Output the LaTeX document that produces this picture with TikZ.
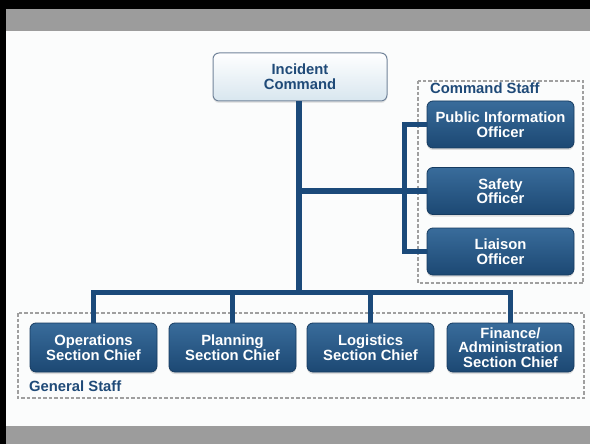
\documentclass[tikz,border=0pt]{standalone}
\usepackage{fontspec}
\setmainfont{Liberation Sans}
\usetikzlibrary{shadows}
\definecolor{navy}{HTML}{1B4A7A}
\definecolor{txtblue}{HTML}{1F4A78}
\definecolor{boxtop}{HTML}{396C9B}
\definecolor{boxbot}{HTML}{1C4873}
\definecolor{boxedge}{HTML}{163B60}
\definecolor{bandgray}{HTML}{9C9C9C}
\definecolor{pagebg}{HTML}{FBFCFC}
\definecolor{icedge}{HTML}{72849A}
\definecolor{icbot}{HTML}{D8E6EF}
\tikzset{
  unitbox/.style={rectangle, rounded corners=6pt, draw=boxedge, line width=0.8pt,
    top color=boxtop, bottom color=boxbot, text=white, align=center,
    font=\bfseries\fontsize{14.8}{14.5}\selectfont, inner sep=0pt,
    drop shadow={opacity=0.25, shadow xshift=0pt, shadow yshift=-2pt}},
  icbox/.style={rectangle, rounded corners=6pt, draw=icedge, line width=1pt,
    top color=white, bottom color=icbot, text=txtblue, align=center,
    font=\bfseries\fontsize{14.8}{15}\selectfont, inner sep=0pt,
    minimum width=174pt, minimum height=48pt,
    drop shadow={opacity=0.18, shadow xshift=0pt, shadow yshift=-2pt}},
  frame/.style={draw=gray!75, line width=1.3pt, dash pattern=on 3.5pt off 2pt},
  grouplabel/.style={anchor=west, text=txtblue, font=\bfseries\fontsize{14.8}{15}\selectfont, inner sep=0pt},
  conn/.style={draw=navy, line width=5.5pt, line join=miter},
}
\begin{document}
\begin{tikzpicture}[x=1pt, y=-1pt]
\useasboundingbox (0,0) rectangle (590,444);
% background and bands
\fill[pagebg] (0,0) rectangle (590,444);
\fill[black] (0,0) rectangle (590,9);
\fill[black] (0,0) rectangle (6,444);
\fill[bandgray] (6,9) rectangle (590,31);
\fill[bandgray] (6,426) rectangle (590,444);
% group frames
\draw[frame] (418,81) rectangle (583,283);
\draw[frame] (18,313) rectangle (584,398);
\node[grouplabel] (cslabel) at (430,88.5) {Command Staff};
\node[grouplabel] (gslabel) at (29,386) {General Staff};
% nodes
\node[icbox] (ic) at (300,77) {Incident\\Command};
\node[unitbox, minimum width=147pt, minimum height=47pt] (pio) at (500.5,124.5) {Public Information\\Officer};
\node[unitbox, minimum width=147pt, minimum height=47pt] (so) at (500.5,191) {Safety\\Officer};
\node[unitbox, minimum width=147pt, minimum height=47pt] (lo) at (500.5,251.5) {Liaison\\Officer};
\node[unitbox, minimum width=127pt, minimum height=49pt] (ops) at (93.5,347.5) {Operations\\Section Chief};
\node[unitbox, minimum width=127pt, minimum height=49pt] (plan) at (232.5,347.5) {Planning\\Section Chief};
\node[unitbox, minimum width=127pt, minimum height=49pt] (log) at (370.5,347.5) {Logistics\\Section Chief};
\node[unitbox, minimum width=127pt, minimum height=49pt] (fin) at (510.5,347.5) {Finance/\\Administration\\Section Chief};
% connectors
\coordinate (bus) at (299,292.5);
\draw[conn] (ic.south -| bus) -- (bus);
\draw[conn] (ops.north) |- (bus) -| (fin.north);
\draw[conn] (plan.north) -- (plan.north |- bus);
\draw[conn] (log.north) -- (log.north |- bus);
\draw[conn] (bus |- so.west) -- (so.west);
\draw[conn] (pio.west) -- ++(-22,0) |- (lo.west);
\end{tikzpicture}
\end{document}
